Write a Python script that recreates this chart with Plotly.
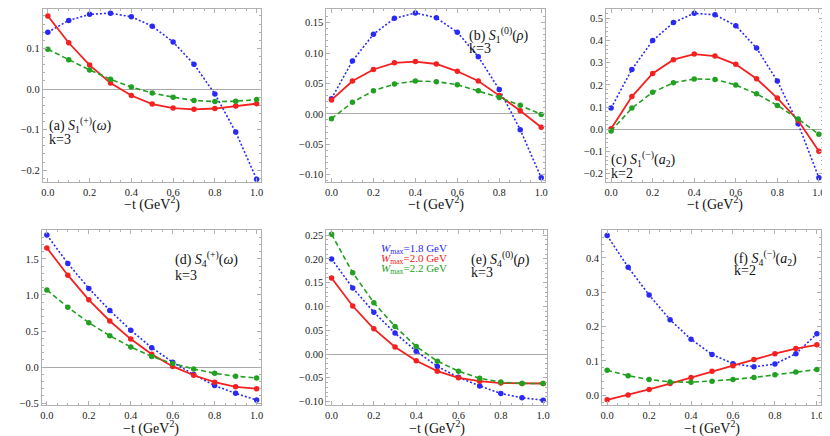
import plotly.graph_objects as go

x_vals = [0.0, 0.1, 0.2, 0.3, 0.4, 0.5, 0.6, 0.7, 0.8, 0.9, 1.0]

# (a) S1(+)(omega), k=3
a_blue = [0.140, 0.169, 0.184, 0.187, 0.178, 0.155, 0.116, 0.061, -0.012, -0.106, -0.222]
a_red = [0.180, 0.114, 0.059, 0.015, -0.016, -0.037, -0.047, -0.050, -0.048, -0.042, -0.036]
a_green = [0.098, 0.072, 0.047, 0.024, 0.005, -0.010, -0.020, -0.028, -0.031, -0.030, -0.026]
# (b) S1(0)(rho), k=3
b_blue = [0.025, 0.087, 0.131, 0.157, 0.166, 0.158, 0.134, 0.094, 0.040, -0.026, -0.105]
b_red = [0.023, 0.054, 0.073, 0.084, 0.086, 0.082, 0.070, 0.054, 0.030, 0.005, -0.022]
b_green = [-0.008, 0.019, 0.038, 0.049, 0.054, 0.053, 0.048, 0.038, 0.027, 0.014, -0.001]
# (c) S1(-)(a2), k=2
c_blue = [0.096, 0.270, 0.400, 0.481, 0.523, 0.516, 0.467, 0.366, 0.218, 0.025, -0.218]
c_red = [0.003, 0.148, 0.252, 0.314, 0.339, 0.330, 0.293, 0.228, 0.141, 0.040, -0.099]
c_green = [-0.007, 0.096, 0.167, 0.210, 0.227, 0.225, 0.200, 0.160, 0.108, 0.047, -0.022]
# (d) S4(+)(omega), k=3
d_blue = [1.831, 1.438, 1.091, 0.785, 0.511, 0.269, 0.068, -0.105, -0.256, -0.365, -0.457]
d_red = [1.653, 1.274, 0.932, 0.639, 0.388, 0.178, 0.009, -0.114, -0.210, -0.274, -0.301]
d_green = [1.068, 0.831, 0.616, 0.434, 0.279, 0.146, 0.050, -0.027, -0.087, -0.128, -0.151]
# (e) S4(0)(rho), k=3
e_blue = [0.200, 0.139, 0.088, 0.044, 0.006, -0.026, -0.049, -0.067, -0.083, -0.092, -0.097]
e_red = [0.160, 0.101, 0.053, 0.015, -0.014, -0.036, -0.050, -0.057, -0.061, -0.062, -0.062]
e_green = [0.252, 0.171, 0.108, 0.058, 0.016, -0.015, -0.036, -0.051, -0.059, -0.062, -0.062]
# (f) S4(-)(a2), k=2
f_blue = [0.465, 0.373, 0.292, 0.220, 0.163, 0.119, 0.092, 0.083, 0.091, 0.121, 0.179]
f_red = [-0.013, 0.001, 0.017, 0.034, 0.052, 0.070, 0.086, 0.104, 0.121, 0.136, 0.147]
f_green = [0.073, 0.057, 0.046, 0.039, 0.038, 0.041, 0.046, 0.052, 0.060, 0.068, 0.075]

series_labels = ["<i>W</i><sub>max</sub>=1.8 GeV", "<i>W</i><sub>max</sub>=2.0 GeV", "<i>W</i><sub>max</sub>=2.2 GeV"]
panel_labels = [
    "(a) <i>S</i><sub>1</sub><sup>(+)</sup>(<i>ω</i>)",
    "(b) <i>S</i><sub>1</sub><sup>(0)</sup>(<i>ρ</i>)",
    "(c) <i>S</i><sub>1</sub><sup>(−)</sup>(<i>a</i><sub>2</sub>)",
    "(d) <i>S</i><sub>4</sub><sup>(+)</sup>(<i>ω</i>)",
    "(e) <i>S</i><sub>4</sub><sup>(0)</sup>(<i>ρ</i>)",
    "(f) <i>S</i><sub>4</sub><sup>(−)</sup>(<i>a</i><sub>2</sub>)",
]
k_labels = ["k=3", "k=3", "k=2", "k=3", "k=3", "k=2"]
x_title = "−t (GeV<sup>2</sup>)"

panels = [
    (a_blue, a_red, a_green),
    (b_blue, b_red, b_green),
    (c_blue, c_red, c_green),
    (d_blue, d_red, d_green),
    (e_blue, e_red, e_green),
    (f_blue, f_red, f_green),
]

W, H = 830, 436
def px(x):
    return x / W
def py(y):
    return 1 - y / H

# layout (pixel frames)
frames = [
    (33, 252, 0.5, 175), (318, 538, 0.5, 175), (599, 817, 0.5, 175),
    (32, 252, 224, 400.5), (318, 540, 224, 400.5), (595, 815, 224, 400.5),
]
y_ranges = [(-0.229, 0.196), (-0.112, 0.1716), (-0.237, 0.54),
            (-0.525, 1.895), (-0.107, 0.260), (-0.028, 0.480)]
y_dticks = [0.1, 0.05, 0.1, 0.5, 0.05, 0.1]
y_formats = [".1f", ".2f", ".1f", ".1f", ".2f", ".1f"]
zero_lines = [True, True, True, True, True, False]
label_pos = [(38, 117, 132), (460, 26, 40), (603, 152, 166),
             (165, 253, 270), (462, 253, 267), (726, 252, 265)]
title_y = [197, 197, 197, 423, 423, 423]

colors = ["#2a2af5", "#f52020", "#22a022"]
dashes = ["2px,2px", "solid", "5px,3px"]
widths = [1.6, 1.8, 1.6]

FONT = "Liberation Serif, Times New Roman, serif"
fig = go.Figure()
annotations = []
for i, (ser, fr) in enumerate(zip(panels, frames)):
    xa = "x" if i == 0 else f"x{i+1}"
    ya = "y" if i == 0 else f"y{i+1}"
    for j, yv in enumerate(ser):
        fig.add_trace(go.Scatter(
            x=x_vals, y=yv, mode="lines+markers", xaxis=xa, yaxis=ya,
            line=dict(color=colors[j], dash=dashes[j], width=widths[j]),
            marker=dict(color=colors[j], size=5.5),
            name=series_labels[j], showlegend=False,
        ))
    l, r, t, b = fr
    axis_common = dict(
        showline=True, linecolor="#b0b0b0", linewidth=1, mirror="ticks",
        ticks="inside", tickcolor="#b0b0b0", ticklen=4, tickwidth=1,
        showgrid=False, tickfont=dict(family=FONT, size=10.5, color="#222"),
    )
    xkey = "xaxis" if i == 0 else f"xaxis{i+1}"
    ykey = "yaxis" if i == 0 else f"yaxis{i+1}"
    fig.update_layout({
        xkey: dict(axis_common, domain=[px(l), px(r)], anchor=ya,
                   range=[-0.024, 1.02], dtick=0.2, tick0=0, tickformat=".1f",
                   zeroline=False,
                   minor=dict(ticks="inside", ticklen=2, dtick=0.05, tickcolor="#b0b0b0", showgrid=False)),
        ykey: dict(axis_common, domain=[py(b), py(t)], anchor=xa,
                   range=list(y_ranges[i]), dtick=y_dticks[i], tick0=0, tickformat=y_formats[i],
                   zeroline=zero_lines[i], zerolinecolor="#a8a8a8", zerolinewidth=1,
                   minor=dict(ticks="inside", ticklen=2, nticks=5, tickcolor="#b0b0b0", showgrid=False)),
    })
    lx, ly1, ly2 = label_pos[i]
    annotations.append(dict(xref="paper", yref="paper", x=px(lx), y=py(ly1), xanchor="left", yanchor="middle",
                            text=panel_labels[i], showarrow=False, borderpad=0,
                            font=dict(family=FONT, size=14, color="#111")))
    annotations.append(dict(xref="paper", yref="paper", x=px(lx), y=py(ly2), xanchor="left", yanchor="middle",
                            text=k_labels[i], showarrow=False, borderpad=0,
                            font=dict(family=FONT, size=14, color="#111")))
    annotations.append(dict(xref=xa + " domain", yref="paper", x=0.5, y=py(title_y[i]),
                            xanchor="center", yanchor="middle", text=x_title, showarrow=False,
                            borderpad=0, font=dict(family=FONT, size=14, color="#111")))

for j, yy in enumerate([243, 253, 263]):
    annotations.append(dict(xref="paper", yref="paper", x=px(372), y=py(yy), xanchor="left", yanchor="middle",
                            text=series_labels[j], showarrow=False, borderpad=0,
                            font=dict(family=FONT, size=11, color=colors[j])))

fig.update_layout(width=W, height=H, margin=dict(l=0, r=0, t=0, b=0),
                  paper_bgcolor="white", plot_bgcolor="white", annotations=annotations,
                  showlegend=False)
fig.write_html("out.html")
